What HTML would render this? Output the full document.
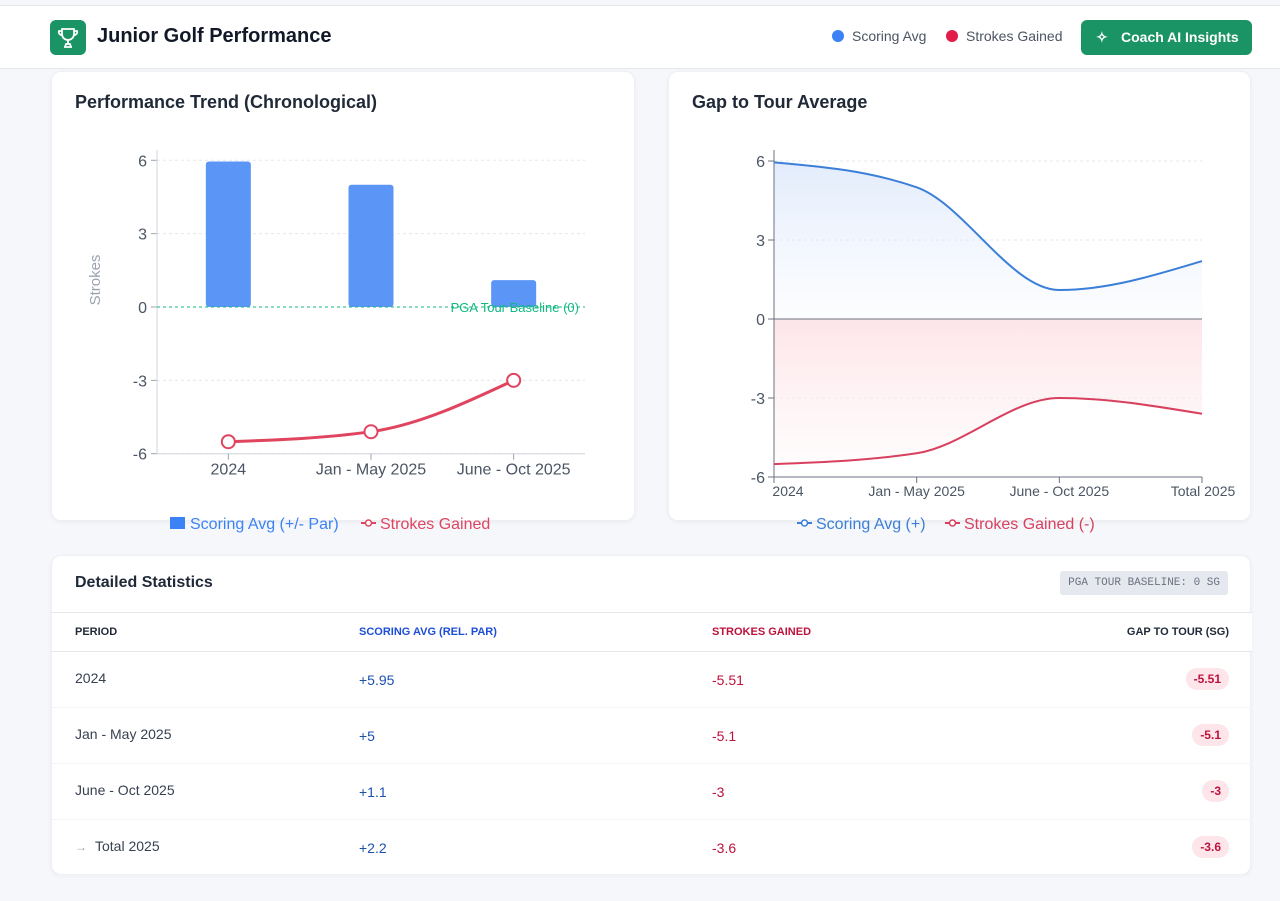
<!DOCTYPE html>
<html><head><meta charset="utf-8">
<style>
*{box-sizing:border-box;margin:0;padding:0}
body{width:1280px;height:901px;background:#f5f7fa;font-family:"Liberation Sans",sans-serif;position:relative;overflow:hidden;color:#111827}
.hdr{position:absolute;left:0;top:5px;width:1280px;height:64px;background:#fff;border-top:1px solid #e5e7eb;border-bottom:1px solid #e5e7eb}
.logo{position:absolute;left:50px;top:14px;width:36px;height:35px;background:#1a9464;border-radius:6px}
.title{position:absolute;left:97px;top:19px;font-size:20px;font-weight:bold;color:#111827}
.lg{position:absolute;top:22px;font-size:14px;color:#4b5563}
.dot{display:inline-block;width:12px;height:12px;border-radius:50%;vertical-align:-1px;margin-right:8px}
.btn{position:absolute;left:1081px;top:14px;width:171px;height:35px;background:#1a9464;border-radius:6px;color:#fff;font-size:14px;font-weight:bold;line-height:35px;padding-left:40px}
.card{position:absolute;background:#fff;border-radius:10px;box-shadow:0 1px 3px rgba(0,0,0,.06);border:1px solid #eef0f3}
.ct{position:absolute;font-size:18px;font-weight:bold;color:#1f2937}
svg text{font-family:"Liberation Sans",sans-serif}
.th{position:absolute;top:56px;left:0;width:1200px;height:40px;border-top:1px solid #e5e7eb;border-bottom:1px solid #e5e7eb;background:#fff;font-size:11px;font-weight:bold}
.row{position:absolute;left:0;width:1200px;height:56px;font-size:14px;border-bottom:1px solid #f3f4f6}
.c{position:absolute}
.pill{position:absolute;right:23px;background:#fde5ea;color:#be123c;font-size:12px;font-weight:bold;border-radius:11px;padding:4px 8px}
</style></head><body>
<div class="hdr">
 <div class="logo">
  <svg width="36" height="35" viewBox="0 0 36 35"><path d="M12 9h12v5a6 6 0 0 1-12 0z M12 11H9a3 3 0 0 0 3 4 M24 11h3a3 3 0 0 1-3 4 M18 20v4 M14 27h8 M15 27l1-3h4l1 3" fill="none" stroke="#fff" stroke-width="1.8"/></svg>
 </div>
 <div class="title">Junior Golf Performance</div>
 <div class="lg" style="left:832px"><span class="dot" style="background:#3b82f6"></span>Scoring Avg</div>
 <div class="lg" style="left:946px"><span class="dot" style="background:#e11d48"></span>Strokes Gained</div>
 <div class="btn"><span style="position:absolute;left:15px;top:0">✧</span>Coach AI Insights</div>
</div>

<div class="card" style="left:51px;top:71px;width:584px;height:450px">
 <div class="ct" style="left:23px;top:20px">Performance Trend (Chronological)</div>
</div>
<div class="card" style="left:668px;top:71px;width:583px;height:450px">
 <div class="ct" style="left:23px;top:20px">Gap to Tour Average</div>
</div>
<svg id="ch" width="1280" height="560" style="position:absolute;left:0;top:0">
 <defs>
  <linearGradient id="gb" x1="0" y1="0" x2="0" y2="1"><stop offset="0" stop-color="#dbe7fb" stop-opacity=".8"/><stop offset="1" stop-color="#eef3fd" stop-opacity=".2"/></linearGradient>
  <linearGradient id="gr" x1="0" y1="0" x2="0" y2="1"><stop offset="0" stop-color="#fde2e6" stop-opacity=".9"/><stop offset="1" stop-color="#fdeef0" stop-opacity=".2"/></linearGradient>
 </defs>
</svg>

<div class="card" style="left:51px;top:555px;width:1200px;height:320px">
 <div class="ct" style="left:23px;top:18px;font-size:16px">Detailed Statistics</div>
 <div style="position:absolute;right:22px;top:15px;background:#e5e9ef;color:#6b7280;font-family:'Liberation Mono',monospace;font-size:11px;padding:6px 8px;border-radius:3px">PGA TOUR BASELINE: 0 SG</div>
 <div class="th">
  <span class="c" style="left:23px;top:13px;color:#1f2937">PERIOD</span>
  <span class="c" style="left:307px;top:13px;color:#1d4ed8">SCORING AVG (REL. PAR)</span>
  <span class="c" style="left:660px;top:13px;color:#be123c">STROKES GAINED</span>
  <span class="c" style="right:23px;top:13px;color:#1f2937">GAP TO TOUR (SG)</span>
 </div>
 <div id="rows"></div>
</div>

<script>
const cats=["2024","Jan - May 2025","June - Oct 2025"];
const scoring=[5.95,5,1.1];
const sg=[-5.51,-5.1,-3];
const gapCats=["2024","Jan - May 2025","June - Oct 2025","Total 2025"];
const gapScoring=[5.95,5,1.1,2.2];
const gapSg=[-5.51,-5.1,-3,-3.6];
const ticks=[6,3,0,-3,-6];
const tablePeriods=["2024","Jan - May 2025","June - Oct 2025","Total 2025"];
const tableScoring=["+5.95","+5","+1.1","+2.2"];
const tableSg=["-5.51","-5.1","-3","-3.6"];

const NS="http://www.w3.org/2000/svg";
const svg=document.getElementById('ch');
function mk(t,a,txt){const e=document.createElementNS(NS,t);for(const k in a)e.setAttribute(k,a[k]);if(txt!=null)e.textContent=txt;svg.appendChild(e);return e;}
function mono(pts){
 const n=pts.length;if(n<2)return"";
 const x=pts.map(p=>p[0]),y=pts.map(p=>p[1]);const m=[];const d=[];
 for(let i=0;i<n-1;i++)d.push((y[i+1]-y[i])/(x[i+1]-x[i]));
 for(let i=1;i<n-1;i++){const h0=x[i]-x[i-1],h1=x[i+1]-x[i];const s0=d[i-1],s1=d[i];const p=(s0*h1+s1*h0)/(h0+h1);m[i]=(Math.sign(s0)+Math.sign(s1))*Math.min(Math.abs(s0),Math.abs(s1),0.5*Math.abs(p))||0;}
 m[0]=n>2?(3*d[0]-m[1])/2:d[0];m[n-1]=n>2?(3*d[n-2]-m[n-2])/2:d[n-2];
 let s=`M${x[0]},${y[0]}`;
 for(let i=0;i<n-1;i++){const h=(x[i+1]-x[i])/3;s+=`C${x[i]+h},${y[i]+h*m[i]},${x[i+1]-h},${y[i+1]-h*m[i+1]},${x[i+1]},${y[i+1]}`;}
 return s;
}
const L={x0:157,x1:585,y:v=>307-v*24.45};
const bw=(L.x1-L.x0)/cats.length;const bx=i=>L.x0+bw*(i+.5);
ticks.forEach(t=>{
 let g=mk('line',{x1:L.x0,x2:L.x1,y1:L.y(t),y2:L.y(t),stroke:'#e5e7eb','stroke-dasharray':'3 3'});
 mk('line',{x1:L.x0-6,x2:L.x0,y1:L.y(t),y2:L.y(t),stroke:'#9ca3af'});
 let e=mk('text',{x:L.x0-10,y:L.y(t)+6,'text-anchor':'end','font-size':16,fill:'#4b5563'},String(t));
});
mk('line',{x1:L.x0,x2:L.x0,y1:150,y2:L.y(-6),stroke:'#d1d5db'});
mk('line',{x1:L.x0,x2:L.x1,y1:L.y(-6),y2:L.y(-6),stroke:'#d1d5db'});
let yt=mk('text',{x:0,y:0,transform:'translate(100,280) rotate(-90)','text-anchor':'middle','font-size':15,fill:'#9ca3af'},'Strokes');
cats.forEach((c,i)=>{
 mk('line',{x1:bx(i),x2:bx(i),y1:L.y(-6),y2:L.y(-6)+6,stroke:'#9ca3af'});
 let e=mk('text',{x:bx(i),y:L.y(-6)+21,'text-anchor':'middle','font-size':16,fill:'#4b5563'},c);
 let b=mk('rect',{x:bx(i)-22.5,y:L.y(scoring[i]),width:45,height:L.y(0)-L.y(scoring[i]),rx:3,fill:'#5b95f5'});
});
mk('line',{x1:L.x0,x2:L.x1,y1:L.y(0),y2:L.y(0),stroke:'#10b981','stroke-dasharray':'3 3'});
let bl=mk('text',{x:579,y:L.y(0)+5,'text-anchor':'end','font-size':13,fill:'#10b981'},'PGA Tour Baseline (0)');
let sl=mk('path',{d:mono(sg.map((v,i)=>[bx(i),L.y(v)])),fill:'none',stroke:'#e0445f','stroke-width':3});
sg.forEach((v,i)=>{let p=mk('circle',{cx:bx(i),cy:L.y(v),r:6.5,fill:'#fff',stroke:'#e0445f','stroke-width':2});});
mk('rect',{x:170,y:517,width:15,height:12,fill:'#3b82f6'});
let l1=mk('text',{x:190,y:529,'font-size':16,fill:'#3b82f6'},'Scoring Avg (+/- Par)');
mk('line',{x1:361,x2:376,y1:523,y2:523,stroke:'#e0445f','stroke-width':2});mk('circle',{cx:368.5,cy:523,r:3,fill:'#fff',stroke:'#e0445f','stroke-width':1.5});
let l2=mk('text',{x:380,y:529,'font-size':16,fill:'#e0445f'},'Strokes Gained');
const R={x0:774,x1:1202,y:v=>319-v*26.33};
const rx=i=>R.x0+(R.x1-R.x0)*i/(gapCats.length-1);
ticks.forEach(t=>{
 if(t!==0&&t!==-6){let g=mk('line',{x1:R.x0,x2:R.x1,y1:R.y(t),y2:R.y(t),stroke:'#e5e7eb','stroke-dasharray':'3 3'});}
 mk('line',{x1:R.x0-6,x2:R.x0,y1:R.y(t),y2:R.y(t),stroke:'#6b7280'});
 let e=mk('text',{x:R.x0-9,y:R.y(t)+6,'text-anchor':'end','font-size':16,fill:'#4b5563'},String(t));
});
const bp=gapScoring.map((v,i)=>[rx(i),R.y(v)]),rp=gapSg.map((v,i)=>[rx(i),R.y(v)]);
mk('path',{d:mono(bp)+`L${R.x1},${R.y(0)}L${R.x0},${R.y(0)}Z`,fill:'url(#gb)'});
mk('path',{d:mono(rp)+`L${R.x1},${R.y(0)}L${R.x0},${R.y(0)}Z`,fill:'url(#gr)'});
mk('line',{x1:R.x0,x2:R.x1,y1:R.y(0),y2:R.y(0),stroke:'#6b7280'});
mk('line',{x1:R.x0,x2:R.x0,y1:150,y2:R.y(-6),stroke:'#6b7280'});
mk('line',{x1:R.x0,x2:R.x1,y1:R.y(-6),y2:R.y(-6),stroke:'#6b7280'});
gapCats.forEach((c,i)=>{
 mk('line',{x1:rx(i),x2:rx(i),y1:R.y(-6),y2:R.y(-6)+6,stroke:'#6b7280'});
 let e=mk('text',{x:i==0?R.x0+14:i==3?R.x1+1:rx(i),y:R.y(-6)+19,'text-anchor':'middle','font-size':14,fill:'#4b5563'},c);
});
let bl2=mk('path',{d:mono(bp),fill:'none',stroke:'#3b7fd9','stroke-width':2});
let rl2=mk('path',{d:mono(rp),fill:'none',stroke:'#d9405e','stroke-width':2});
mk('line',{x1:797,x2:812,y1:523,y2:523,stroke:'#3b7fd9','stroke-width':2});mk('circle',{cx:804.5,cy:523,r:3,fill:'#fff',stroke:'#3b7fd9','stroke-width':1.5});
let l3=mk('text',{x:816,y:529,'font-size':16,fill:'#3b7fd9'},'Scoring Avg (+)');
mk('line',{x1:945,x2:960,y1:523,y2:523,stroke:'#d9405e','stroke-width':2});mk('circle',{cx:952.5,cy:523,r:3,fill:'#fff',stroke:'#d9405e','stroke-width':1.5});
let l4=mk('text',{x:964,y:529,'font-size':16,fill:'#d9405e'},'Strokes Gained (-)');
const rows=document.getElementById('rows');
tablePeriods.forEach((p,i)=>{
 const r=document.createElement('div');r.className='row';r.style.top=(96+i*56)+'px';
 
 
 r.innerHTML=`<span class="c" style="left:23px;top:18px;color:#374151">${i==3?'<span style="color:#9ca3af;font-size:12px;margin-right:8px">→</span>':''}${p}</span><span class="c" style="left:307px;top:20px;color:#1e4fb0">${tableScoring[i]}</span><span class="c" style="left:660px;top:20px;color:#be123c">${tableSg[i]}</span><span class="pill" style="top:16px">${tableSg[i]}</span>`;
 rows.appendChild(r);
});
</script>
</body></html>
